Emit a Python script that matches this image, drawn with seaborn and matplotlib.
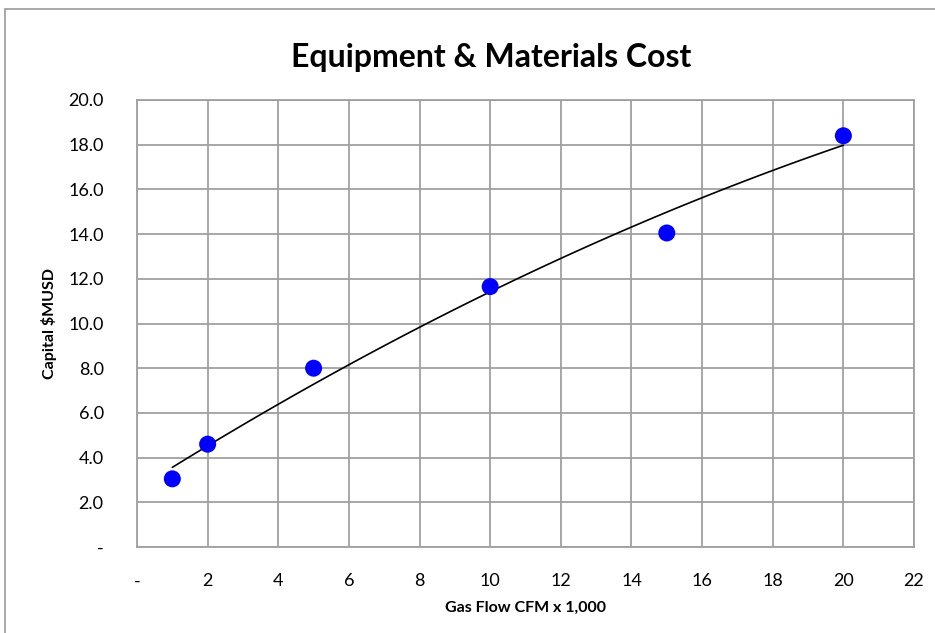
import numpy as np
import pandas as pd
import seaborn as sns
import matplotlib.pyplot as plt
from matplotlib.patches import Rectangle
from matplotlib.ticker import MultipleLocator

gas_flow = [1, 2, 5, 10, 15, 20]
capital = [3.05, 4.6, 8.0, 11.65, 14.05, 18.4]
x_ticks = [0, 2, 4, 6, 8, 10, 12, 14, 16, 18, 20, 22]
x_labels = ['-'] + [str(v) for v in x_ticks[1:]]
y_ticks = [0, 2, 4, 6, 8, 10, 12, 14, 16, 18, 20]
y_labels = ['-'] + ['%.1f' % v for v in y_ticks[1:]]

sns.set_style("white")
plt.rcParams['font.family'] = ['Lato', 'DejaVu Sans']
plt.rcParams['text.color'] = 'black'
plt.rcParams['axes.labelcolor'] = 'black'
plt.rcParams['xtick.color'] = 'black'
plt.rcParams['ytick.color'] = 'black'

df = pd.DataFrame({'Gas Flow': gas_flow, 'Capital': capital})

fig = plt.figure(figsize=(9.35, 6.33), dpi=100)
ax = fig.add_axes([137 / 935, 1 - 547 / 633, (914 - 137) / 935, (547 - 100) / 633])

grid_c = '#a0a0a0'
# quadratic trendline like the excel one
sns.regplot(data=df, x='Gas Flow', y='Capital', order=2, ci=None, scatter=False,
            truncate=True, ax=ax, line_kws={'color': 'black', 'lw': 1.2, 'zorder': 3})
sns.scatterplot(data=df, x='Gas Flow', y='Capital', ax=ax, color='#0000ff', s=150,
                edgecolor='none', zorder=4)

ax.set_xlim(0, 22)
ax.set_ylim(0, 20)
ax.set_xticks(x_ticks)
ax.set_xticklabels(x_labels, fontsize=13)
ax.set_yticks(y_ticks)
ax.set_yticklabels(y_labels, fontsize=13)
ax.xaxis.set_minor_locator(MultipleLocator(0.5))
ax.yaxis.set_minor_locator(MultipleLocator(1))
ax.tick_params(which='major', length=0)
ax.tick_params(axis='x', which='major', pad=19)
ax.tick_params(axis='y', which='major', pad=24)
ax.tick_params(which='minor', direction='in', length=4, color=grid_c, width=1.2)
ax.grid(True, which='major', color=grid_c, lw=1.3)
ax.set_axisbelow(True)
for s in ax.spines.values():
    s.set_color(grid_c)
    s.set_linewidth(1.3)

ax.set_xlabel('Gas Flow CFM x 1,000', fontsize=11.5, fontweight='bold', labelpad=8)
ax.set_ylabel('Capital $MUSD', fontsize=11.5, fontweight='bold', labelpad=8)
fig.text(491 / 935, 1 - 57 / 633, 'Equipment & Materials Cost', fontsize=23,
         fontweight='bold', ha='center', va='center')

fig.patches.append(Rectangle((5 / 935, -0.01), 1, 1 - 9 / 633 + 0.01, transform=fig.transFigure,
                             fill=False, edgecolor='#999999', lw=1.2))

plt.savefig('out.png', dpi=100)
plt.close()
